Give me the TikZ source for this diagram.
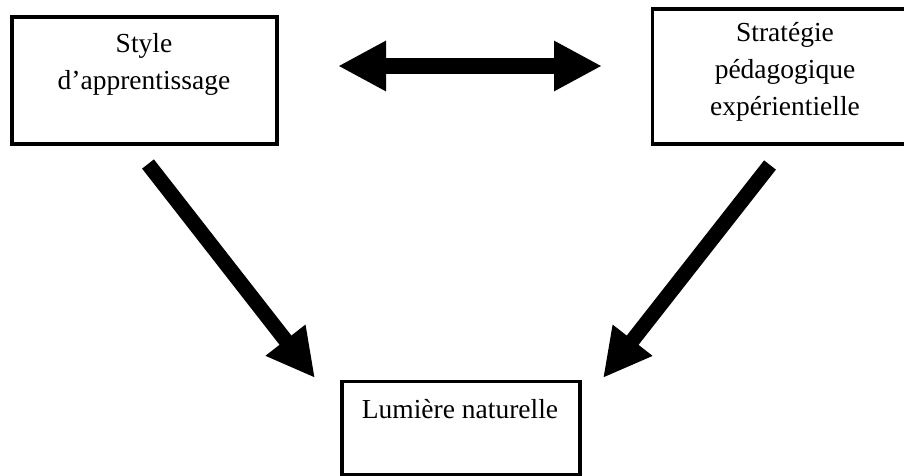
\documentclass[tikz,border=0pt]{standalone}
\usepackage{fontspec}
\setmainfont{Liberation Serif}
\usetikzlibrary{arrows.meta}
\begin{document}
\begin{tikzpicture}[x=1pt,y=-1pt,
  box/.style={draw, line width=3.5pt, inner sep=0pt},
  boxtext/.style={align=center, anchor=base, inner sep=0pt,
    font=\fontsize{27.5}{37}\selectfont},
  bigtip/.tip={Triangle[width=47pt,length=48pt]},
  blockarrow/.style={line width=15pt, -bigtip},
  twoway/.style={line width=16pt, bigtip-bigtip}]
\useasboundingbox (0,0) rectangle (904,476);
\clip (0,0) rectangle (904,476);

% the three boxes
\node[box, minimum width=265pt, minimum height=127pt] (style) at (144.5,80.5) {};
\node[box, minimum width=265pt, minimum height=135pt] (strat) at (785,76.5) {};
\node[box, minimum width=238pt, minimum height=93pt] (lum) at (461,428) {};

% their texts, placed by the baseline of the last line
\node[boxtext] (styletxt) at (144,90) {Style\\d’apprentissage};
\node[boxtext] (strattxt) at (785,116) {Stratégie\\pédagogique\\expérientielle};
\node[boxtext] (lumtxt) at (460,418) {Lumière naturelle};

% arrow end points
\coordinate (twL) at (338,66);
\coordinate (twR) at (602,66);
\coordinate (lA) at (148,164);
\coordinate (lB) at (315,378);
\coordinate (rA) at (770,165);
\coordinate (rB) at (603,378);

% arrows
\draw[twoway] (twL) -- (twR);
\draw[blockarrow] (lA) -- (lB);
\draw[blockarrow] (rA) -- (rB);
\end{tikzpicture}
\end{document}
